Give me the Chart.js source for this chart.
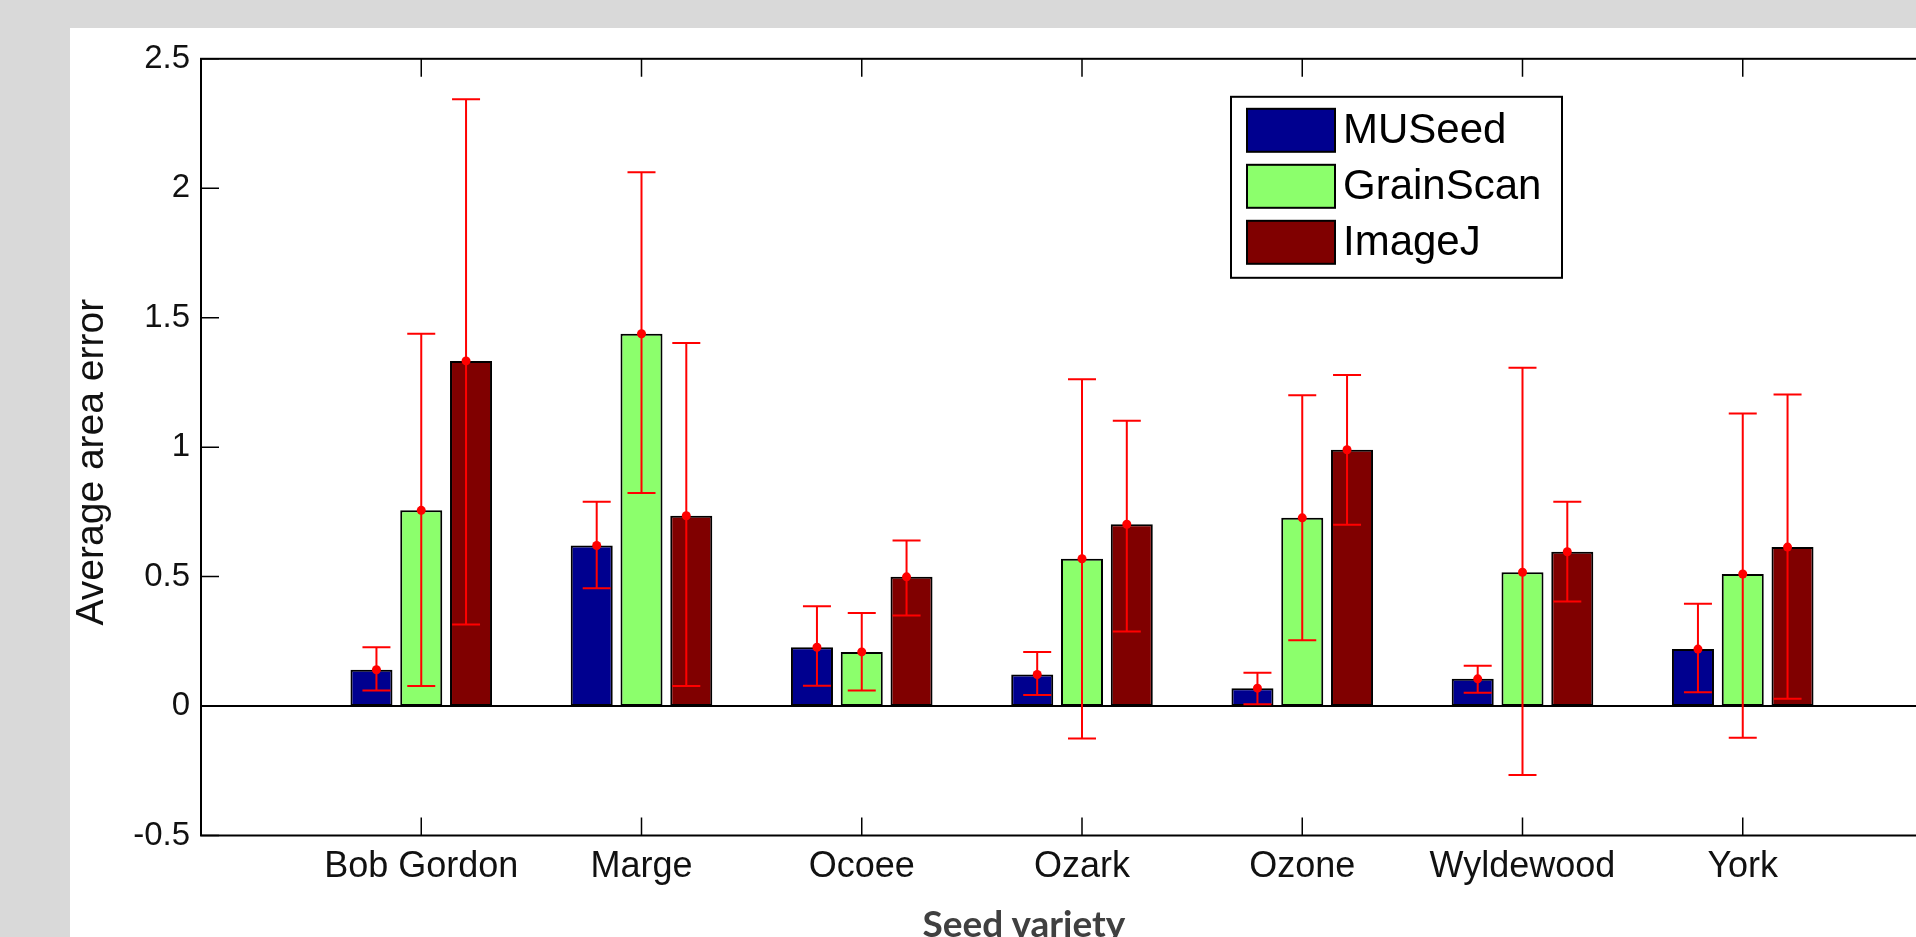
<!DOCTYPE html>
<html>
<head>
<meta charset="utf-8">
<title>Average area error by seed variety</title>
<script src="https://cdn.jsdelivr.net/npm/chart.js@4.4.1/dist/chart.umd.min.js"></script>
<style>
    html, body { margin: 0; padding: 0; width: 1916px; height: 937px; overflow: hidden; background: #d9d9d9; }
    #panel { position: absolute; left: 70px; top: 28px; width: 1846px; height: 909px; background: #ffffff; overflow: hidden; }
    #chart { position: absolute; left: 0; top: 0; }
    #xTitle { position: absolute; left: 754px; width: 400px; top: 876px; text-align: center;
              font-family: Lato, "Open Sans", sans-serif; font-weight: bold; font-size: 37px; line-height: 37px; color: #404040; }
</style>
</head>
<body>
<div id="panel">
    <canvas id="chart" width="1920" height="909"></canvas>
    <div id="xTitle">Seed variety</div>
</div>
<script>
// Dados
const categories = ['Bob Gordon', 'Marge', 'Ocoee', 'Ozark', 'Ozone', 'Wyldewood', 'York'];
const seriesNames = ['MUSeed', 'GrainScan', 'ImageJ'];

const museedMean = [0.14, 0.62, 0.227, 0.122, 0.069, 0.105, 0.22];
const museedLow  = [0.06, 0.455, 0.078, 0.043, 0.007, 0.051, 0.053];
const museedHigh = [0.227, 0.789, 0.385, 0.209, 0.129, 0.156, 0.395];

const grainMean = [0.756, 1.438, 0.209, 0.569, 0.727, 0.517, 0.51];
const grainLow  = [0.077, 0.823, 0.06, -0.125, 0.254, -0.266, -0.122];
const grainHigh = [1.438, 2.062, 0.359, 1.262, 1.2, 1.307, 1.13];

const imagejMean = [1.333, 0.735, 0.499, 0.702, 0.99, 0.596, 0.614];
const imagejLow  = [0.315, 0.077, 0.35, 0.288, 0.7, 0.404, 0.028];
const imagejHigh = [2.344, 1.402, 0.639, 1.102, 1.279, 0.789, 1.203];

const yTickValues = [-0.5, 0, 0.5, 1, 1.5, 2, 2.5];
const yTickLabels = ['-0.5', '0', '0.5', '1', '1.5', '2', '2.5'];
const yTitle = 'Average area error';

const barColors = ['#00008f', '#8cff6c', '#800000'];
const textColor = '#111111';
const axisFont = '"Liberation Sans", Arial, sans-serif';

// o eixo x tem uma posição vazia em cada ponta (como no MATLAB)
const labels = [''].concat(categories, ['']);
function pad(arr) {
    return [null].concat(arr, [null]);
}

// Barras de erro, linha do zero, moldura, ticks internos e legenda
const matlabAxes = {
    id: 'matlabAxes',
    afterDatasetsDraw(chart) {
        const ctx = chart.ctx;
        const { left, right } = chart.chartArea;
        const xs = chart.scales.x;
        const ys = chart.scales.y;

        ctx.save();
        const y0 = ys.getPixelForValue(0);
        ctx.strokeStyle = '#000';
        ctx.lineWidth = 2;
        ctx.beginPath();
        ctx.moveTo(left, y0);
        ctx.lineTo(right, y0);
        ctx.stroke();

        chart.data.datasets.forEach((ds, di) => {
            const meta = chart.getDatasetMeta(di);
            meta.data.forEach((bar, i) => {
                if (ds.data[i] === null) return;
                const cx = xs.getPixelForValue(i);
                const ex = cx + (bar.x - cx) * 0.9;
                const yl = ys.getPixelForValue(ds.errLow[i]);
                const yh = ys.getPixelForValue(ds.errHigh[i]);
                ctx.strokeStyle = '#ff0000';
                ctx.lineWidth = 2;
                ctx.beginPath();
                ctx.moveTo(ex, yl); ctx.lineTo(ex, yh);
                ctx.moveTo(ex - 14, yl); ctx.lineTo(ex + 14, yl);
                ctx.moveTo(ex - 14, yh); ctx.lineTo(ex + 14, yh);
                ctx.stroke();
                ctx.fillStyle = '#ff0000';
                ctx.beginPath();
                ctx.arc(ex, ys.getPixelForValue(ds.data[i]), 4.5, 0, Math.PI * 2);
                ctx.fill();
            });
        });
        ctx.restore();
    },
    afterDraw(chart) {
        const ctx = chart.ctx;
        const { left, right, top, bottom } = chart.chartArea;
        const xs = chart.scales.x;
        const ys = chart.scales.y;

        ctx.save();
        ctx.strokeStyle = '#000';
        ctx.lineWidth = 2;
        ctx.strokeRect(left, top, right - left, bottom - top);

        ctx.lineWidth = 1.5;
        ctx.beginPath();
        yTickValues.forEach(v => {
            const py = ys.getPixelForValue(v);
            ctx.moveTo(left, py); ctx.lineTo(left + 18, py);
            ctx.moveTo(right, py); ctx.lineTo(right - 18, py);
        });
        categories.forEach((c, i) => {
            const px = xs.getPixelForValue(i + 1);
            ctx.moveTo(px, bottom); ctx.lineTo(px, bottom - 18);
            ctx.moveTo(px, top); ctx.lineTo(px, top + 18);
        });
        ctx.stroke();

        // Título do eixo y (um pouco abaixo do centro, como no original)
        ctx.save();
        ctx.translate(left - 109, (top + bottom) / 2 + 15);
        ctx.rotate(-Math.PI / 2);
        ctx.font = '39px ' + axisFont;
        ctx.fillStyle = textColor;
        ctx.textAlign = 'center';
        ctx.textBaseline = 'middle';
        ctx.fillText(yTitle, 0, 0);
        ctx.restore();

        // Legenda dentro da área do gráfico
        const bx = left + 1030, by = top + 38, bw = 331, bh = 181;
        ctx.fillStyle = '#fff';
        ctx.fillRect(bx, by, bw, bh);
        ctx.lineWidth = 2;
        ctx.strokeRect(bx, by, bw, bh);
        ctx.font = '42px ' + axisFont;
        ctx.textBaseline = 'middle';
        ctx.textAlign = 'left';
        chart.data.datasets.forEach((ds, k) => {
            const sy = by + 12 + k * 56;
            ctx.fillStyle = ds.backgroundColor;
            ctx.fillRect(bx + 16, sy, 88, 43);
            ctx.strokeRect(bx + 16, sy, 88, 43);
            ctx.fillStyle = '#000';
            ctx.fillText(ds.label, bx + 112, sy + 23);
        });
        ctx.restore();
    }
};

document.addEventListener('DOMContentLoaded', function() {
    const ctx = document.getElementById('chart').getContext('2d');
    const means = [museedMean, grainMean, imagejMean];
    const lows = [museedLow, grainLow, imagejLow];
    const highs = [museedHigh, grainHigh, imagejHigh];

    const chart = new Chart(ctx, {
        type: 'bar',
        data: {
            labels: labels,
            datasets: seriesNames.map((name, k) => ({
                label: name,
                data: pad(means[k]),
                errLow: pad(lows[k]),
                errHigh: pad(highs[k]),
                backgroundColor: barColors[k],
                borderColor: '#000',
                borderWidth: 2,
                borderSkipped: false,
                categoryPercentage: 0.678,
                barPercentage: 0.844
            }))
        },
        options: {
            responsive: false,
            animation: false,
            layout: {
                padding: { top: 28, right: 27, left: 0, bottom: 0 }
            },
            plugins: {
                legend: { display: false },
                tooltip: { enabled: false }
            },
            scales: {
                x: {
                    offset: false,
                    grid: { display: false, drawTicks: false },
                    border: { display: false },
                    ticks: {
                        autoSkip: false,
                        maxRotation: 0,
                        padding: 10,
                        color: textColor,
                        font: { family: axisFont, size: 36 }
                    },
                    afterFit: function(scale) { scale.height = 101.5; }
                },
                y: {
                    min: -0.5,
                    max: 2.5,
                    afterBuildTicks: function(scale) {
                        scale.ticks = yTickValues.map(v => ({ value: v }));
                    },
                    grid: { display: false, drawTicks: false },
                    border: { display: false },
                    ticks: {
                        padding: 11,
                        color: textColor,
                        font: { family: axisFont, size: 33 },
                        callback: function(value, index) { return yTickLabels[index]; }
                    },
                    afterFit: function(scale) { scale.width = 131; }
                }
            }
        },
        plugins: [matlabAxes]
    });
});
</script>
</body>
</html>
